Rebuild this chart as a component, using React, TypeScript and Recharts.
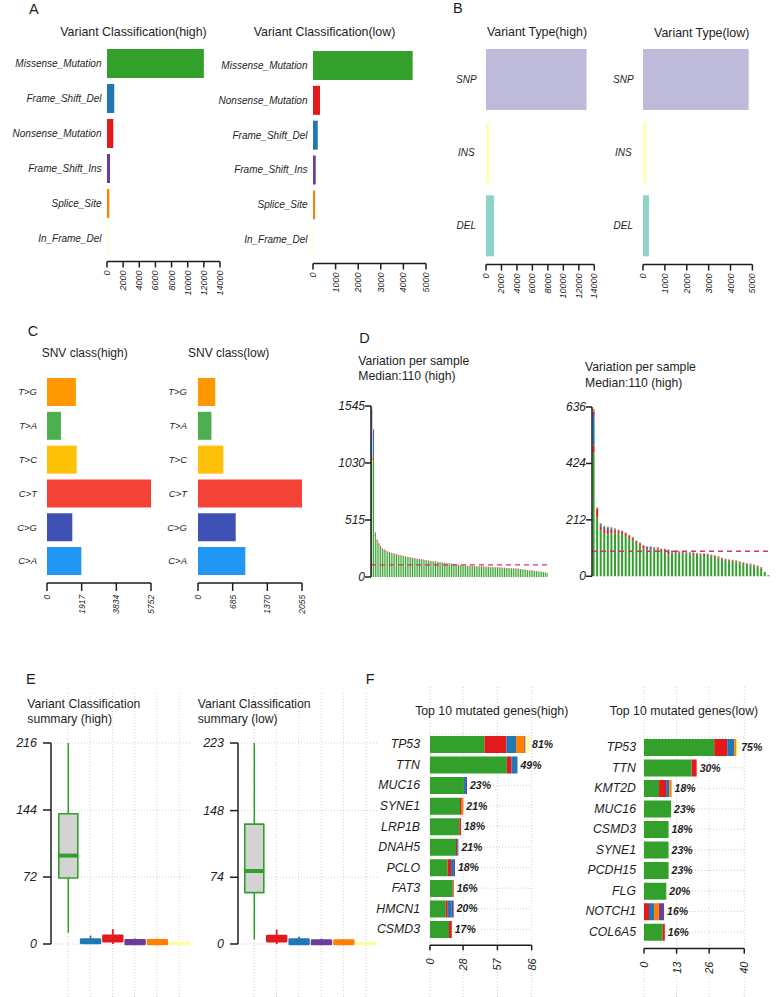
import React from 'react';
import { BarChart, Bar, XAxis, YAxis, CartesianGrid, ReferenceLine, LabelList, Cell } from 'recharts';

const FONT = '"Liberation Sans", Arial, Helvetica, sans-serif';
const INK = '#1e1e1e';

const vcColors: Record<string, string> = {
  Missense_Mutation: '#33A02C',
  Nonsense_Mutation: '#E31A1C',
  Frame_Shift_Del: '#1F78B4',
  Frame_Shift_Ins: '#6A3D9A',
  Splice_Site: '#FF7F00',
  In_Frame_Del: '#FFFF99',
};
const vtColors: Record<string, string> = { SNP: '#BEBADA', INS: '#FFFFB3', DEL: '#8DD3C7' };
const snvColors: Record<string, string> = {
  'T>G': '#FF9800', 'T>A': '#4CAF50', 'T>C': '#FFC107', 'C>T': '#F44336', 'C>G': '#3F51B5', 'C>A': '#2196F3',
};

// A - variant classification
const vcHighClasses = ['Missense_Mutation', 'Frame_Shift_Del', 'Nonsense_Mutation', 'Frame_Shift_Ins', 'Splice_Site', 'In_Frame_Del'];
const vcHighCounts = [12000, 900, 780, 370, 290, 80];
const vcHighTicks = [0, 2000, 4000, 6000, 8000, 10000, 12000, 14000];
const vcLowClasses = ['Missense_Mutation', 'Nonsense_Mutation', 'Frame_Shift_Del', 'Frame_Shift_Ins', 'Splice_Site', 'In_Frame_Del'];
const vcLowCounts = [4410, 310, 210, 120, 90, 20];
const vcLowTicks = [0, 1000, 2000, 3000, 4000, 5000];

// B - variant type
const vtTypes = ['SNP', 'INS', 'DEL'];
const vtHighCounts = [13000, 400, 1050];
const vtLowCounts = [4830, 150, 270];

// C - SNV class
const snvClasses = ['T>G', 'T>A', 'T>C', 'C>T', 'C>G', 'C>A'];
const snvHighCounts = [1600, 770, 1640, 5752, 1400, 1900];
const snvHighTicks = [0, 1917, 3834, 5752];
const snvLowCounts = [340, 265, 500, 2055, 745, 935];
const snvLowTicks = [0, 685, 1370, 2055];

// D - variants per sample
const sampleStack = ['Missense_Mutation', 'Nonsense_Mutation', 'Frame_Shift_Del', 'Frame_Shift_Ins', 'Splice_Site', 'In_Frame_Del'];
const highSampleTotals = [
  1545, 1343, 409, 340, 310, 282, 262, 250, 240, 232,
  226, 220, 214, 210, 205, 200, 197, 194, 190, 186,
  183, 180, 177, 174, 171, 168, 165, 162, 160, 157,
  154, 151, 148, 146, 144, 141, 139, 137, 135, 133,
  131, 129, 127, 125, 123, 121, 118, 116, 114, 112,
  108, 106, 105, 104, 103, 102, 101, 100, 99, 98,
  98, 97, 96, 95, 94, 93, 92, 91, 90, 89,
  88, 87, 86, 85, 84, 83, 82, 81, 80, 79,
  78, 77, 76, 74, 72, 70, 68, 66, 64, 62,
  60, 58, 56, 54, 52, 50, 48, 46, 43, 38,
];
const highSampleNonsense = [
  40, 20, 20, 14, 12, 10, 9, 9, 8, 8,
  8, 8, 8, 7, 7, 7, 7, 7, 7, 7,
  6, 6, 6, 6, 6, 6, 6, 6, 6, 6,
  5, 5, 5, 5, 5, 5, 5, 5, 5, 5,
  5, 5, 5, 5, 5, 5, 5, 5, 5, 5,
  5, 4, 5, 4, 5, 4, 5, 4, 5, 4,
  4, 5, 4, 4, 5, 4, 4, 5, 4, 4,
  4, 4, 4, 4, 4, 4, 4, 4, 4, 4,
  4, 4, 4, 3, 4, 3, 4, 3, 4, 3,
  3, 3, 3, 3, 3, 3, 3, 3, 3, 3,
];
const highSampleFrameDel = [346, 178, 10, 8, 5, 6, 4, 3, 2, 3];
const highSampleFrameIns = [70, 75, 4, 2, 2];
const highSampleSplice = [25, 10, 6, 4, 3, 3, 3, 2, 2, 2, 2, 2];
const highSampleInFrame = [7, 3, 2];
const highMedian = 110;
const highSampleTicks = [0, 515, 1030, 1545];

const lowSampleTotals = [
  636, 259, 200, 190, 187, 185, 181, 176, 172, 165,
  156, 148, 135, 127, 118, 113, 113, 110, 110, 104,
  104, 101, 97, 97, 95, 94, 92, 91, 90, 88,
  87, 86, 85, 82, 80, 76, 70, 66, 64, 62,
  60, 57, 54, 50, 48, 45, 41, 35, 16, 4,
];
const lowSampleNonsense = [
  25, 33, 14, 15, 14, 12, 8, 8, 8, 8,
  10, 8, 6, 6, 10, 4, 4, 4, 4, 4,
  4, 8, 4, 3, 4, 3, 3, 3, 3, 3,
  3, 4, 3, 3, 3, 3, 3, 3, 3, 3,
  3, 3, 3, 3, 3, 3, 3, 3, 0, 0,
];
const lowSampleFrameDel = [
  105, 0, 8, 8, 8, 6, 4, 4, 3, 3,
  3, 3, 2, 2, 2, 10, 10, 3, 3, 3,
  3, 8, 6, 3, 4, 3, 3, 3, 5, 3,
  3, 4, 3, 3, 2, 3, 3, 3, 2, 2,
  2, 3, 3, 2, 2, 2, 2, 0, 0, 0,
];
const lowSampleFrameIns = [24, 0, 3, 2, 2, 2, 2, 0, 0, 0, 0, 0, 0, 2];
const lowSampleSplice = [
  10, 4, 3, 3, 3, 3, 3, 3, 2, 2,
  2, 2, 2, 2, 2, 2, 2, 2, 2, 2,
  2, 2, 2, 2, 2, 2, 2, 2, 2, 2,
  2, 2, 2, 2, 2, 2, 2, 2, 2, 2,
  2, 2, 2, 2, 2, 2, 2, 2,
];
const lowSampleInFrame = [6];
const lowMedian = 94;
const lowSampleTicks = [0, 212, 424, 636];

// E - summary boxplots
const boxHighClasses = ['Missense_Mutation', 'Frame_Shift_Del', 'Nonsense_Mutation', 'Frame_Shift_Ins', 'Splice_Site', 'In_Frame_Del'];
const boxHighMin = [12, 0, 0, 0, 0, 0];
const boxHighQ1 = [71, 1, 3, 0, 0, 0];
const boxHighMedian = [95, 3, 6, 2, 2, 0];
const boxHighQ3 = [140, 5, 9, 4, 4, 1];
const boxHighMax = [216, 9, 16, 6, 6, 1];
const boxHighTicks = [0, 72, 144, 216];

const boxLowClasses = ['Missense_Mutation', 'Nonsense_Mutation', 'Frame_Shift_Del', 'Frame_Shift_Ins', 'Splice_Site', 'In_Frame_Del'];
const boxLowMin = [5, 0, 0, 0, 0, 0];
const boxLowQ1 = [57, 3, 0, 0, 0, 0];
const boxLowMedian = [81, 6, 2, 2, 2, 0];
const boxLowQ3 = [133, 9, 5, 4, 4, 1];
const boxLowMax = [223, 16, 8, 6, 5, 1];
const boxLowTicks = [0, 74, 148, 223];

// F - top mutated genes
const geneStack = ['Missense_Mutation', 'Nonsense_Mutation', 'Frame_Shift_Del', 'Splice_Site', 'Frame_Shift_Ins', 'In_Frame_Del'];
const topHighGenes = ['TP53', 'TTN', 'MUC16', 'SYNE1', 'LRP1B', 'DNAH5', 'PCLO', 'FAT3', 'HMCN1', 'CSMD3'];
const topHighMissense = [46, 65, 28.7, 25.4, 24.8, 22, 14.9, 19.2, 13.3, 16.1];
const topHighNonsense = [18.6, 4, 0, 1.4, 1.4, 1.1, 2.9, 0.8, 1.7, 2.3];
const topHighFrameDel = [8.2, 5, 1.7, 0, 0, 0.9, 2.5, 0, 3.4, 0];
const topHighSplice = [7, 0, 0, 1.4, 0, 0, 0, 0, 0, 0];
const topHighFrameIns = [1, 0, 0.9, 0, 0, 0, 0.8, 0, 1.6, 0];
const topHighInFrame = [3, 0, 0, 0, 0, 0, 0, 0, 0, 0];
const topHighPct = ['81%', '49%', '23%', '21%', '18%', '21%', '18%', '16%', '20%', '17%'];
const topHighTicks = [0, 28, 57, 86];

const topLowGenes = ['TP53', 'TTN', 'KMT2D', 'MUC16', 'CSMD3', 'SYNE1', 'PCDH15', 'FLG', 'NOTCH1', 'COL6A5'];
const topLowMissense = [28, 19, 6, 10.8, 9.8, 9.8, 9.8, 8.9, 0, 7.4];
const topLowNonsense = [5.2, 2, 2.8, 0, 0, 0, 0, 0, 2, 0.9];
const topLowFrameDel = [2.8, 0, 1.3, 0, 0, 0, 0, 0, 2, 0];
const topLowSplice = [0.9, 0, 0.9, 0, 0, 0, 0, 0, 2, 0];
const topLowFrameIns = [0, 0, 0, 0, 0, 0, 0, 0, 2, 0];
const topLowInFrame = [0.7, 0, 0, 0, 0, 0, 0, 0, 0, 0];
const topLowPct = ['75%', '30%', '18%', '23%', '18%', '23%', '23%', '20%', '16%', '16%'];
const topLowTicks = [0, 13, 26, 40];

// ---------- helpers ----------
type Box = { x: number; y: number; w: number; h: number };
const PAD = 12;
const place = (r: Box, left: number, bottom: number, right = 0) => ({
  style: { position: 'absolute', left: r.x - left - PAD, top: r.y - PAD } as React.CSSProperties,
  width: r.w + left + 2 * PAD + right,
  height: r.h + bottom + 2 * PAD,
  margin: { top: PAD, right: PAD + right, bottom: PAD, left: PAD },
});

const sampleRows = (totals: number[], parts: Record<string, number[]>) =>
  totals.map((t, i) => {
    const row: any = { id: i + 1 };
    let other = 0;
    Object.keys(parts).forEach((k) => {
      const v = parts[k][i] ?? 0;
      row[k] = v;
      other += v;
    });
    row.Missense_Mutation = t - other;
    return row;
  });

const RotTick = ({ x, y, payload, size }: any) => (
  <text x={x} y={y} transform={`rotate(-90 ${x} ${y})`} textAnchor="end" dominantBaseline="central"
    fontSize={size} fontStyle="italic" fill={INK} fontFamily={FONT}>{payload.value}</text>
);

const SideTick = ({ x, y, payload, size, anchor = 'end' }: any) => (
  <text x={x} y={y} textAnchor={anchor} dominantBaseline="central"
    fontSize={size} fontStyle="italic" fill={INK} fontFamily={FONT}>{payload.value}</text>
);

const axisStroke = { stroke: INK, strokeWidth: 1.5 };
const gridStroke = '#cfcfcf';
const silent = { tick: false, axisLine: false, tickLine: false } as const;

type HBarProps = {
  r: Box; labelW: number; axisH: number;
  names: string[]; values: number[]; colors: Record<string, string>;
  max: number; ticks: number[]; barSize: number; padBottom: number;
  labelSize: number; labelGap: number; labelAnchor?: string;
  tickFont: number; tickLen: number; tickGap: number;
};

const HBar = (p: HBarProps) => {
  const f = place(p.r, p.labelW, p.axisH);
  const rows = p.names.map((n, i) => ({ name: n, value: p.values[i] }));
  return (
    <div style={f.style}>
      <BarChart width={f.width} height={f.height} margin={f.margin} layout="vertical" data={rows} barCategoryGap={0}>
        <XAxis type="number" domain={[0, p.max]} ticks={p.ticks} interval={0} height={p.axisH}
          axisLine={axisStroke} tickLine={axisStroke} tickSize={p.tickLen} tickMargin={p.tickGap}
          tick={(t: any) => <RotTick {...t} size={p.tickFont} />} />
        <YAxis type="category" dataKey="name" width={p.labelW} axisLine={false} tickLine={false}
          tickSize={0} tickMargin={p.labelGap} interval={0} padding={{ top: 0, bottom: p.padBottom }}
          tick={(t: any) => <SideTick {...t} size={p.labelSize} anchor={p.labelAnchor ?? 'end'} />} />
        <Bar dataKey="value" barSize={p.barSize} isAnimationActive={false}>
          {rows.map((r) => <Cell key={r.name} fill={p.colors[r.name]} />)}
        </Bar>
      </BarChart>
    </div>
  );
};

const SampleBars = ({ r, rows, max, ticks, median }: any) => {
  const f = place(r, 40, 0);
  return (
    <div style={f.style}>
      <BarChart width={f.width} height={f.height} margin={f.margin} data={rows} barCategoryGap="16%">
        <XAxis dataKey="id" hide />
        <YAxis type="number" domain={[0, max]} ticks={ticks} interval={0} width={40}
          axisLine={axisStroke} tickLine={axisStroke} tickSize={6} tickMargin={0}
          tick={(t: any) => <SideTick {...t} size={12} />} />
        {sampleStack.map((k) => (
          <Bar key={k} dataKey={k} stackId="s" fill={vcColors[k]} isAnimationActive={false} />
        ))}
        <ReferenceLine y={median} stroke="#D6336C" strokeDasharray="5 4" strokeWidth={1.4} />
      </BarChart>
    </div>
  );
};

const BoxShape = (props: any) => {
  const { x, y, width, height, payload } = props;
  const k = height / payload.max;
  const base = y + height;
  const py = (v: number) => base - v * k;
  const cx = x + width / 2;
  const c = vcColors[payload.cls];
  const main = payload.cls === 'Missense_Mutation';
  const top = py(payload.q3);
  const h = Math.max(py(payload.q1) - top, 0.5);
  return (
    <g>
      <line x1={cx} x2={cx} y1={py(payload.max)} y2={py(payload.min)} stroke={c} strokeWidth={main ? 1.5 : 1.8} />
      <rect x={x} y={top} width={width} height={h} fill={main ? '#D3D3D3' : c} stroke={c} strokeWidth={main ? 1.6 : 2.4}
        strokeLinejoin="round" />
      <line x1={x} x2={x + width} y1={py(payload.median)} y2={py(payload.median)} stroke={c} strokeWidth={main ? 4 : 2} />
    </g>
  );
};

// vertical dotted guides that run past the plot area, as in the figure; placed by the same axes
const CategoryGuides = ({ r, rows, padLeft, max }: any) => {
  const f = place(r, 0, 0);
  return (
    <div style={f.style}>
      <BarChart width={f.width} height={f.height} margin={f.margin} data={rows}>
        <XAxis dataKey="cls" {...silent} height={0} padding={{ left: padLeft, right: 0 }} />
        <YAxis type="number" {...silent} width={0} domain={[0, max]} />
        <Bar dataKey="max" fill="transparent" isAnimationActive={false} />
        {rows.map((d: any) => (
          <ReferenceLine key={d.cls} x={d.cls} stroke={gridStroke} strokeDasharray="1 2" />
        ))}
      </BarChart>
    </div>
  );
};

const NumberGuides = ({ r, rows, max, ticks }: any) => {
  const f = place(r, 0, 0);
  return (
    <div style={f.style}>
      <BarChart width={f.width} height={f.height} margin={f.margin} layout="vertical" data={rows}>
        <XAxis type="number" {...silent} height={0} domain={[0, max]} ticks={ticks} interval={0} />
        <YAxis type="category" dataKey="gene" {...silent} width={0} />
        <Bar dataKey="Missense_Mutation" fill="transparent" isAnimationActive={false} />
        {ticks.map((t: number) => (
          <ReferenceLine key={t} x={t} stroke={gridStroke} strokeDasharray="1 2" />
        ))}
      </BarChart>
    </div>
  );
};

const BoxPlot = ({ r, rows, max, ticks, padLeft }: any) => {
  const f = place(r, 45, 0);
  return (
    <>
      <CategoryGuides r={{ x: r.x, y: 693, w: r.w, h: 304 }} rows={rows} padLeft={padLeft} max={max} />
      <div style={f.style}>
        <BarChart width={f.width} height={f.height} margin={f.margin} data={rows}>
          <CartesianGrid stroke={gridStroke} strokeDasharray="1 2" vertical={false} />
          <XAxis dataKey="cls" {...silent} height={0} padding={{ left: padLeft, right: 0 }} />
          <YAxis type="number" domain={[0, max]} ticks={ticks} interval={0} width={45}
            axisLine={axisStroke} tickLine={axisStroke} tickSize={8} tickMargin={6}
            tick={(t: any) => <SideTick {...t} size={12.5} />} />
          <Bar dataKey="max" barSize={19} shape={BoxShape} isAnimationActive={false} />
        </BarChart>
      </div>
    </>
  );
};

const PctLabel = (p: any) => {
  const vb = p.viewBox ?? p;
  return (
    <text x={vb.x + vb.width + 3} y={vb.y + vb.height / 2} dominantBaseline="central" fontSize={10.5}
      fontWeight="bold" fontStyle="italic" fill={INK} fontFamily={FONT}>{p.value}</text>
  );
};

const GeneBars = ({ r, rows, max, ticks, padBottom, labelGap }: any) => {
  const f = place(r, 80, 35, 40);
  const last = geneStack[geneStack.length - 1];
  return (
    <>
      <NumberGuides r={{ x: r.x, y: 685, w: r.w, h: 312 }} rows={rows} max={max} ticks={ticks} />
      <div style={f.style}>
        <BarChart width={f.width} height={f.height} margin={f.margin} layout="vertical" data={rows} barCategoryGap={0}>
          <CartesianGrid stroke={gridStroke} strokeDasharray="1 2" vertical={false} />
          <XAxis type="number" domain={[0, max]} ticks={ticks} interval={0} height={35} allowDataOverflow
            axisLine={axisStroke} tickLine={axisStroke} tickSize={5} tickMargin={8}
            tick={(t: any) => <RotTick {...t} size={11} />} />
          <YAxis type="category" dataKey="gene" width={80} axisLine={false} tickLine={false}
            tickSize={0} tickMargin={labelGap} interval={0} padding={{ top: 0, bottom: padBottom }}
            tick={(t: any) => <SideTick {...t} size={12.3} />} />
          {geneStack.slice(0, -1).map((k) => (
            <Bar key={k} dataKey={k} stackId="g" fill={vcColors[k]} barSize={17} isAnimationActive={false} />
          ))}
          <Bar dataKey={(d: any) => d[last] || 0.0001} stackId="g" fill={vcColors[last]} barSize={17} isAnimationActive={false}>
            <LabelList dataKey="pct" content={PctLabel} />
          </Bar>
        </BarChart>
      </div>
    </>
  );
};

const geneRows = (genes: string[], parts: number[][], pct: string[]) =>
  genes.map((g, i) => {
    const row: any = { gene: g, pct: pct[i] };
    geneStack.forEach((k, j) => { row[k] = parts[j][i]; });
    return row;
  });

const boxRows = (cls: string[], mn: number[], q1: number[], md: number[], q3: number[], mx: number[]) =>
  cls.map((c, i) => ({ cls: c, min: mn[i], q1: q1[i], median: md[i], q3: q3[i], max: mx[i] }));

export default function App() {
  const highSamples = sampleRows(highSampleTotals, {
    Nonsense_Mutation: highSampleNonsense, Frame_Shift_Del: highSampleFrameDel, Frame_Shift_Ins: highSampleFrameIns,
    Splice_Site: highSampleSplice, In_Frame_Del: highSampleInFrame,
  });
  const lowSamples = sampleRows(lowSampleTotals, {
    Nonsense_Mutation: lowSampleNonsense, Frame_Shift_Del: lowSampleFrameDel, Frame_Shift_Ins: lowSampleFrameIns,
    Splice_Site: lowSampleSplice, In_Frame_Del: lowSampleInFrame,
  });
  const highGenes = geneRows(topHighGenes,
    [topHighMissense, topHighNonsense, topHighFrameDel, topHighSplice, topHighFrameIns, topHighInFrame], topHighPct);
  const lowGenes = geneRows(topLowGenes,
    [topLowMissense, topLowNonsense, topLowFrameDel, topLowSplice, topLowFrameIns, topLowInFrame], topLowPct);

  return (
    <div style={{ position: 'absolute', left: 0, top: 0, width: 776, height: 997, background: '#fff', fontFamily: FONT, overflow: 'hidden' }}>
      {/* A */}
      <HBar r={{ x: 107, y: 45.5, w: 113, h: 215.5 }} labelW={100} axisH={40} names={vcHighClasses} values={vcHighCounts}
        colors={vcColors} max={14000} ticks={vcHighTicks} barSize={29} padBottom={5.5} labelSize={10} labelGap={5.5}
        tickFont={9} tickLen={6} tickGap={3} />
      <HBar r={{ x: 313, y: 47.5, w: 113, h: 215.5 }} labelW={100} axisH={40} names={vcLowClasses} values={vcLowCounts}
        colors={vcColors} max={5000} ticks={vcLowTicks} barSize={29} padBottom={6.5} labelSize={10} labelGap={5.5}
        tickFont={9} tickLen={6} tickGap={3} />
      {/* B */}
      <HBar r={{ x: 485.7, y: 42.5, w: 108.3, h: 221.5 }} labelW={40} axisH={40} names={vtTypes} values={vtHighCounts}
        colors={vtColors} max={14000} ticks={vcHighTicks} barSize={61} padBottom={2} labelSize={10} labelGap={19.7}
        labelAnchor="middle" tickFont={9} tickLen={6} tickGap={3} />
      <HBar r={{ x: 643.3, y: 42.5, w: 109.4, h: 221.5 }} labelW={40} axisH={40} names={vtTypes} values={vtLowCounts}
        colors={vtColors} max={5000} ticks={vcLowTicks} barSize={61} padBottom={2} labelSize={10} labelGap={19.7}
        labelAnchor="middle" tickFont={9} tickLen={6} tickGap={3} />
      {/* C */}
      <HBar r={{ x: 47, y: 375.1, w: 104, h: 207.9 }} labelW={30} axisH={40} names={snvClasses} values={snvHighCounts}
        colors={snvColors} max={5752} ticks={snvHighTicks} barSize={28} padBottom={5} labelSize={9.5} labelGap={10}
        tickFont={8.5} tickLen={8} tickGap={4} />
      <HBar r={{ x: 197.7, y: 375.1, w: 104, h: 207.9 }} labelW={30} axisH={40} names={snvClasses} values={snvLowCounts}
        colors={snvColors} max={2055} ticks={snvLowTicks} barSize={28} padBottom={5} labelSize={9.5} labelGap={11}
        tickFont={8.5} tickLen={8} tickGap={4} />
      {/* D */}
      <SampleBars r={{ x: 371, y: 406, w: 177, h: 171 }} rows={highSamples} max={1545} ticks={highSampleTicks} median={highMedian} />
      <SampleBars r={{ x: 591.7, y: 406.7, w: 178.3, h: 169.3 }} rows={lowSamples} max={636} ticks={lowSampleTicks} median={lowMedian} />
      {/* E */}
      <BoxPlot r={{ x: 50.7, y: 743.3, w: 139.4, h: 201 }} max={216} ticks={boxHighTicks} padLeft={5.8}
        rows={boxRows(boxHighClasses, boxHighMin, boxHighQ1, boxHighMedian, boxHighQ3, boxHighMax)} />
      <BoxPlot r={{ x: 238.3, y: 743.3, w: 139.2, h: 201 }} max={223} ticks={boxLowTicks} padLeft={4.8}
        rows={boxRows(boxLowClasses, boxLowMin, boxLowQ1, boxLowMedian, boxLowQ3, boxLowMax)} />
      {/* F */}
      <GeneBars r={{ x: 430, y: 733.7, w: 101.7, h: 211.3 }} rows={highGenes} max={86} ticks={topHighTicks} padBottom={5.7} labelGap={10} />
      <GeneBars r={{ x: 644, y: 737.4, w: 100.3, h: 211.6 }} rows={lowGenes} max={40} ticks={topLowTicks} padBottom={6.4} labelGap={8} />

      <svg width={776} height={997} style={{ position: 'absolute', left: 0, top: 0, pointerEvents: 'none' }}
        fontFamily={FONT} fill={INK}>
        <g fontSize={14.5}>
          <text x={29} y={13.5}>A</text>
          <text x={453} y={13}>B</text>
          <text x={27.7} y={336}>C</text>
          <text x={359.3} y={343.3}>D</text>
          <text x={26} y={684}>E</text>
          <text x={365.7} y={684}>F</text>
        </g>
        <g fontSize={12.4} textAnchor="middle">
          <text x={133.5} y={36}>Variant Classification(high)</text>
          <text x={324.5} y={36}>Variant Classification(low)</text>
          <text x={537} y={35.5}>Variant Type(high)</text>
          <text x={701.7} y={37}>Variant Type(low)</text>
        </g>
        <g fontSize={12} textAnchor="middle">
          <text x={84.7} y={357}>SNV class(high)</text>
          <text x={228.7} y={357}>SNV class(low)</text>
        </g>
        <g fontSize={12.2}>
          <text x={358.3} y={364.5}>Variation per sample</text>
          <text x={358.3} y={380}>Median:110 (high)</text>
          <text x={585} y={371}>Variation per sample</text>
          <text x={585} y={386.5}>Median:110 (high)</text>
          <text x={27.3} y={708}>Variant Classification</text>
          <text x={27.3} y={723}>summary (high)</text>
          <text x={197.7} y={708}>Variant Classification</text>
          <text x={197.7} y={723}>summary (low)</text>
        </g>
        <g fontSize={12.3} textAnchor="middle">
          <text x={491.7} y={715}>Top 10 mutated genes(high)</text>
          <text x={684} y={715}>Top 10 mutated genes(low)</text>
        </g>
      </svg>
    </div>
  );
}
